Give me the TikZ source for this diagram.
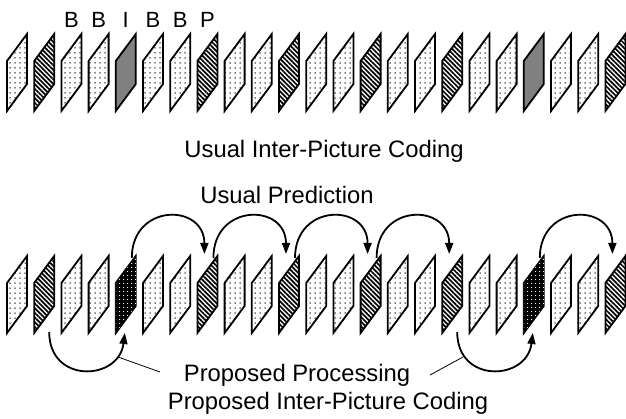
\documentclass[tikz,border=0pt]{standalone}
\usepackage{fontspec}
\setmainfont{Liberation Sans}
\usetikzlibrary{positioning,arrows.meta,patterns.meta}

\tikzset{
  frm/.style={draw=black, line width=1.8pt, line join=miter},
  frd/.style={frm, pattern={Dots[distance=5pt,radius=0.75pt]}},
  frh/.style={frm, pattern={Lines[angle=-45,distance=3.3pt,line width=1.7pt]}},
  frg/.style={frm, fill=black!50},
  frk/.style={frm, fill=black, postaction={pattern={Dots[distance=4pt,radius=0.7pt]}, pattern color=white}},
  parc/.style={line width=1.8pt, -{Triangle[length=11pt,width=8pt]}},
  pline/.style={line width=0.8pt},
  lbl/.style={font=\fontsize{23.8}{28}\selectfont, inner sep=0pt, anchor=base},
  typ/.style={font=\fontsize{22}{26}\selectfont, inner sep=0pt, anchor=base},
}

\begin{document}
\begin{tikzpicture}[x=1pt,y=1pt]
  \useasboundingbox (0,0) rectangle (626,418);

  % Upper row of pictures
  \foreach \k [count=\i from 0] in {d,h,d,d,g,d,d,h,d,d,h,d,d,h,d,d,h,d,d,g,d,d,h} {
    \pgfmathsetmacro{\bx}{7+27.2*\i}
    \coordinate (up\i) at (\bx,307);
    \path[fr\k] (up\i) -- ++(0,50) -- ++(20,27) -- ++(0,-50) -- cycle;
  }

  % Picture types
  \foreach \t [count=\i from 2] in {B,B,I,B,B,P}
    \node[typ, xshift=10pt, yshift=83pt] (t\i) at (up\i) {\t};

  \node[lbl] (uic) at (324,260) {Usual Inter-Picture Coding};

  % Lower row of pictures
  \foreach \k [count=\i from 0] in {d,h,d,d,k,d,d,h,d,d,h,d,d,h,d,d,h,d,d,k,d,d,h} {
    \pgfmathsetmacro{\bx}{7+27.2*\i}
    \coordinate (lo\i) at (\bx,85);
    \path[fr\k] (lo\i) -- ++(0,50) -- ++(20,27) -- ++(0,-50) -- cycle;
    \coordinate (s\i) at (\bx+16,160);
    \coordinate (e\i) at (\bx+7,164);
    \coordinate (b\i) at (\bx+15,86);
    \coordinate (tp\i) at (\bx+9,85);
  }

  % Usual prediction
  \node[lbl] (upr) at (287,214) {Usual Prediction};
  \foreach \a/\b in {4/7,7/10,10/13,13/16,19/22}
    \draw[parc] (s\a) .. controls +(0,55) and +(0,51) .. (e\b);

  % Proposed processing
  \draw[parc] (b1) .. controls +(0,-52) and +(-6,-48) .. (tp4);
  \draw[parc] (b16) .. controls +(0,-52) and +(-6,-48) .. (tp19);
  \node[lbl] (ppr) at (297,37) {Proposed Processing};
  \coordinate (cl) at (118,61);
  \coordinate (cr) at (463,61);
  \draw[pline] (cl) -- (160,46);
  \draw[pline] (cr) -- (430,43);

  \node[lbl] (pic) at (328,9) {Proposed Inter-Picture Coding};

\end{tikzpicture}
\end{document}
